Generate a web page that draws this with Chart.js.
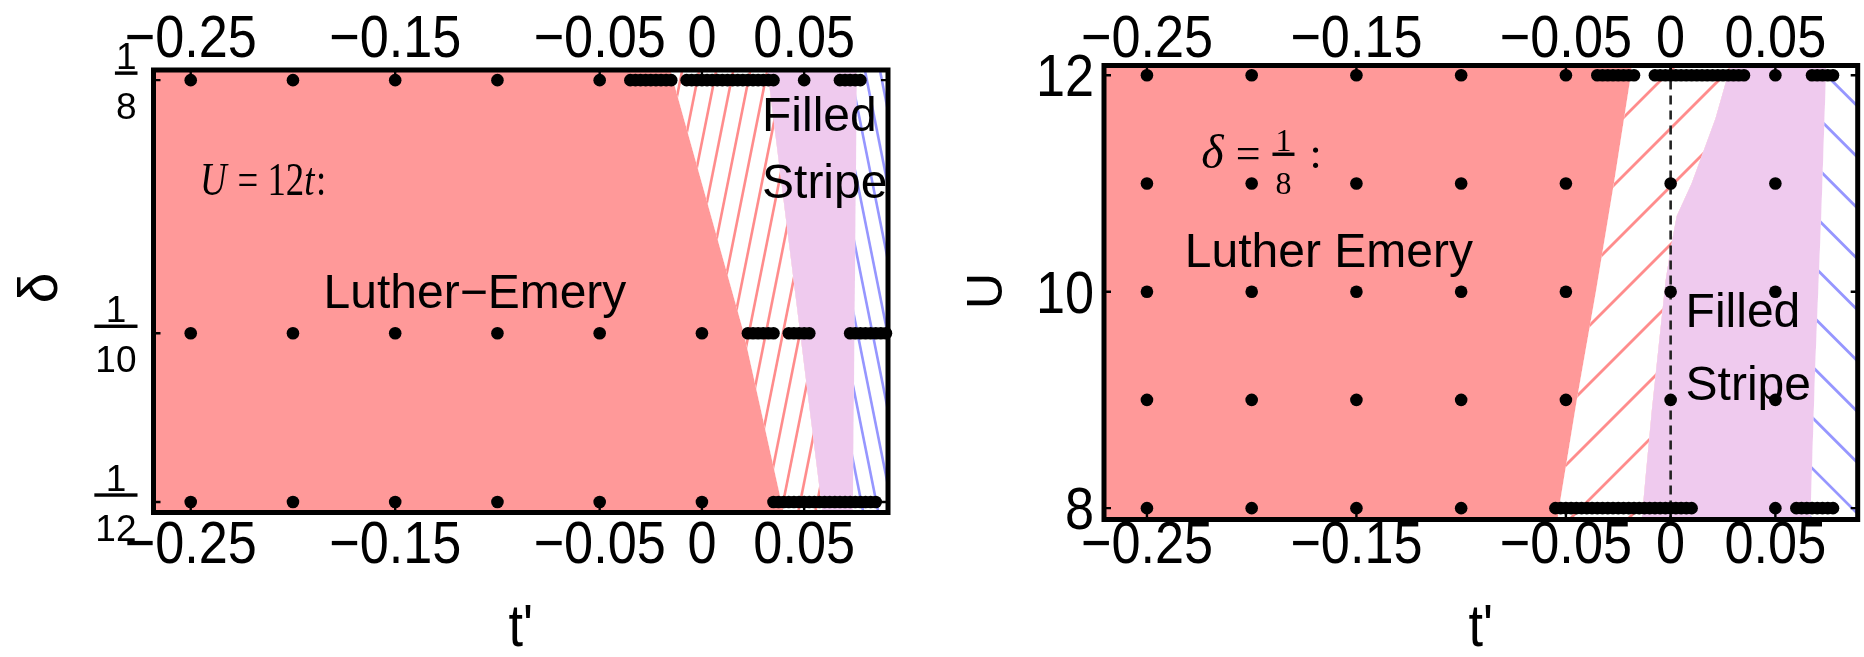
<!DOCTYPE html>
<html>
<head>
<meta charset="utf-8">
<script src="https://cdn.jsdelivr.net/npm/chart.js@4.4.1/dist/chart.umd.min.js"></script>
<style>
  html, body { margin: 0; padding: 0; background: #ffffff; }
  #wrap { position: relative; width: 1864px; height: 657px; overflow: hidden; background: #ffffff; }
  #wrap canvas { position: absolute; top: 0; }
</style>
</head>
<body>
<div id="wrap">
  <canvas id="chartDelta" width="932" height="657" style="left:0px"></canvas>
  <canvas id="chartU" width="932" height="657" style="left:932px"></canvas>
</div>
<script>
// ---------- shared axis ticks ----------
const tpTicks = [-0.25, -0.15, -0.05, 0, 0.05];
const tpTickLabels = ['\u22120.25', '\u22120.15', '\u22120.05', '0', '0.05'];

// ---------- left panel: delta vs t' at U = 12t ----------
const deltaTicks = [1/8, 1/10, 1/12];
const deltaTickNum = ['1', '1', '1'];
const deltaTickDen = ['8', '10', '12'];

const deltaRows = [1/8, 1/10, 1/12];
const tpAtDelta8 = [-0.25, -0.2, -0.15, -0.1, -0.05,
  -0.035, -0.0325, -0.03, -0.0275, -0.025, -0.0225, -0.02, -0.0175, -0.015,
  -0.0075, -0.005, -0.0025, 0, 0.0025, 0.005, 0.0075, 0.01, 0.0125, 0.015, 0.0175, 0.02,
  0.0225, 0.025, 0.0275, 0.03, 0.0325, 0.035,
  0.05,
  0.0675, 0.07, 0.0725, 0.075, 0.0775];
const tpAtDelta10 = [-0.25, -0.2, -0.15, -0.1, -0.05, 0,
  0.0225, 0.025, 0.0275, 0.03, 0.0325, 0.035,
  0.0425, 0.045, 0.0475, 0.05, 0.0525,
  0.0725, 0.075, 0.0775, 0.08, 0.0825, 0.085, 0.0875, 0.09];
const tpAtDelta12 = [-0.25, -0.2, -0.15, -0.1, -0.05, 0,
  0.035, 0.0375, 0.04, 0.0425, 0.045, 0.0475, 0.05, 0.0525, 0.055, 0.0575, 0.06,
  0.0625, 0.065, 0.0675, 0.07, 0.0725, 0.075, 0.0775, 0.08, 0.0825, 0.085];

// phase boundaries, listed top (large delta) to bottom: [t', delta]
const deltaLEEdge = [[-0.0155, 0.126], [0.0205, 0.1], [0.040, 0.0823]];
const deltaStripeLeft = [[0.032, 0.126], [0.059, 0.0823]];
const deltaStripeRight = [[0.0758, 0.126], [0.0738, 0.0823]];

// ---------- right panel: U vs t' at delta = 1/8 ----------
const uTicks = [8, 10, 12];
const uTickLabels = ['8', '10', '12'];

const uRows = [12, 11, 10, 9, 8];
const tpAtU12 = [-0.25, -0.2, -0.15, -0.1, -0.05,
  -0.035, -0.0325, -0.03, -0.0275, -0.025, -0.0225, -0.02, -0.0175,
  -0.0075, -0.005, -0.0025, 0, 0.0025, 0.005, 0.0075, 0.01, 0.0125, 0.015, 0.0175, 0.02,
  0.0225, 0.025, 0.0275, 0.03, 0.0325, 0.035,
  0.05,
  0.0675, 0.07, 0.0725, 0.075, 0.0775];
const tpAtU11 = [-0.25, -0.2, -0.15, -0.1, -0.05, 0, 0.05];
const tpAtU10 = [-0.25, -0.2, -0.15, -0.1, -0.05, 0, 0.05];
const tpAtU9 = [-0.25, -0.2, -0.15, -0.1, -0.05, 0, 0.05];
const tpAtU8 = [-0.25, -0.2, -0.15, -0.1,
  -0.055, -0.0525, -0.05, -0.0475, -0.045, -0.0425, -0.04, -0.0375, -0.035, -0.0325,
  -0.03, -0.0275, -0.025, -0.0225, -0.02, -0.0175, -0.015, -0.0125, -0.01, -0.0075,
  -0.005, -0.0025, 0, 0.0025, 0.005, 0.0075, 0.01,
  0.05,
  0.06, 0.0625, 0.065, 0.0675, 0.07, 0.0725, 0.075, 0.0775];

// phase boundaries, listed top (large U) to bottom: [t', U]
const uLEEdge = [[-0.0186, 12.09], [-0.019, 12], [-0.0271, 11], [-0.0357, 10], [-0.0448, 9], [-0.0533, 8], [-0.054, 7.895]];
const uStripeLeft = [[0.0286, 12.09], [0.0214, 11.6], [0.0157, 11.3], [0.010, 11.0], [0.0029, 10.7],
  [0, 10.4], [-0.0024, 10.1], [-0.0057, 9.5], [-0.009, 8.9], [-0.0119, 8.3], [-0.0138, 7.895]];
const uStripeRight = [[0.0743, 12.09], [0.0719, 10.7], [0.069, 9.3], [0.0667, 7.895]];

// ---------- styling ----------
const SANS = '"Liberation Sans", Arial, sans-serif';
const SERIF = '"Liberation Serif", "Times New Roman", serif';
const LE_FILL = 'rgb(255,153,153)';
const STRIPE_FILL = 'rgb(239,202,238)';
const RED_HATCH = 'rgb(255,140,140)';
const BLUE_HATCH = 'rgb(150,150,255)';

function toPoints(xs, yv) { return xs.map(v => ({ x: v, y: yv })); }

function dotSet(xs, yv) {
  return {
    type: 'scatter',
    data: toPoints(xs, yv),
    pointRadius: 6.3,
    pointHoverRadius: 6.3,
    backgroundColor: '#000',
    borderColor: '#000',
    borderWidth: 0,
    showLine: false,
    fill: false,
    clip: false
  };
}

function boundaryPx(chart, b, side) {
  const { x, y } = chart.scales;
  const a = chart.chartArea;
  if (b === 'frame') {
    const px = side === 'left' ? a.left - 20 : a.right + 20;
    return [[px, a.top - 20], [px, a.bottom + 20]];
  }
  return b.map(p => [x.getPixelForValue(p[0]), y.getPixelForValue(p[1])]);
}

function polyPath(ctx, poly) {
  ctx.beginPath();
  poly.forEach((p, i) => i ? ctx.lineTo(p[0], p[1]) : ctx.moveTo(p[0], p[1]));
  ctx.closePath();
}

function drawHatch(ctx, poly, h, a) {
  ctx.save();
  polyPath(ctx, poly);
  ctx.fillStyle = '#ffffff';
  ctx.fill();
  ctx.clip();
  const len = Math.hypot(h.dir[0], h.dir[1]);
  const d = [h.dir[0] / len, h.dir[1] / len];
  const n = [-d[1], d[0]];
  const corners = [[a.left, a.top], [a.right, a.top], [a.left, a.bottom], [a.right, a.bottom]];
  const proj = corners.map(c => (c[0] - h.through[0]) * n[0] + (c[1] - h.through[1]) * n[1]);
  const lo = Math.floor(Math.min(...proj) / h.gap) - 1;
  const hi = Math.ceil(Math.max(...proj) / h.gap) + 1;
  ctx.strokeStyle = h.color;
  ctx.lineWidth = h.width;
  for (let k = lo; k <= hi; k++) {
    const bx = h.through[0] + n[0] * k * h.gap;
    const by = h.through[1] + n[1] * k * h.gap;
    ctx.beginPath();
    ctx.moveTo(bx - d[0] * 3000, by - d[1] * 3000);
    ctx.lineTo(bx + d[0] * 3000, by + d[1] * 3000);
    ctx.stroke();
  }
  ctx.restore();
}

function condensedText(ctx, text, cx, base, size, sx, align) {
  ctx.save();
  ctx.translate(cx, base);
  ctx.scale(sx, 1);
  ctx.font = size + 'px ' + SANS;
  ctx.textAlign = align || 'center';
  ctx.textBaseline = 'alphabetic';
  ctx.fillText(text, 0, 0);
  ctx.restore();
}

function fraction(ctx, num, den, cx, barY, size, font, barW) {
  ctx.save();
  ctx.font = size + 'px ' + font;
  ctx.textAlign = 'center';
  ctx.textBaseline = 'alphabetic';
  const w = barW || Math.max(ctx.measureText(num).width, ctx.measureText(den).width) + 4;
  ctx.fillRect(cx - w / 2, barY - 1.7, w, 3.4);
  ctx.fillText(num, cx, barY - 0.11 * size);
  ctx.fillText(den, cx, barY + 1.24 * size);
  ctx.restore();
  return w;
}

const phasePlugin = {
  id: 'phase',
  beforeDatasetsDraw(chart, args, o) {
    const { ctx, chartArea: a, scales: { x, y } } = chart;
    ctx.save();
    ctx.beginPath();
    ctx.rect(a.left, a.top, a.right - a.left, a.bottom - a.top);
    ctx.clip();
    for (const r of o.regions) {
      const L = boundaryPx(chart, r.left, 'left');
      const R = boundaryPx(chart, r.right, 'right');
      const poly = L.concat(R.slice().reverse());
      if (r.fill) { ctx.fillStyle = r.fill; polyPath(ctx, poly); ctx.fill(); }
      if (r.hatch) {
        const t = r.hatch.through;
        drawHatch(ctx, poly, Object.assign({}, r.hatch, {
          through: [x.getPixelForValue(t[0]), y.getPixelForValue(t[1])]
        }), a);
      }
    }
    if (o.zeroLine) {
      const px = x.getPixelForValue(0);
      ctx.strokeStyle = '#222';
      ctx.lineWidth = 2.6;
      ctx.setLineDash([9, 6]);
      ctx.beginPath();
      ctx.moveTo(px, a.top);
      ctx.lineTo(px, a.bottom);
      ctx.stroke();
      ctx.setLineDash([]);
    }
    ctx.restore();
  },
  afterDraw(chart, args, o) {
    const { ctx, chartArea: a, scales: { x, y } } = chart;
    ctx.save();
    ctx.fillStyle = '#000';
    ctx.strokeStyle = '#000';

    // frame
    ctx.lineWidth = 5;
    ctx.strokeRect(a.left, a.top, a.right - a.left, a.bottom - a.top);

    // inward tick marks
    ctx.lineWidth = 2.4;
    ctx.beginPath();
    o.xTicks.forEach(v => {
      const px = x.getPixelForValue(v);
      ctx.moveTo(px, a.bottom); ctx.lineTo(px, a.bottom - 9);
      ctx.moveTo(px, a.top); ctx.lineTo(px, a.top + 9);
    });
    o.yTicks.forEach(v => {
      const py = y.getPixelForValue(v);
      ctx.moveTo(a.left, py); ctx.lineTo(a.left + 7, py);
      ctx.moveTo(a.right, py); ctx.lineTo(a.right - 7, py);
    });
    ctx.stroke();

    // t' tick labels, top and bottom
    o.xTicks.forEach((v, i) => {
      const px = x.getPixelForValue(v);
      condensedText(ctx, o.xLabels[i], px, 57, 60, 0.87);
      condensedText(ctx, o.xLabels[i], px, 563, 60, 0.87);
    });

    // left-hand tick labels
    if (o.yFractions) {
      o.yTicks.forEach((v, i) => {
        const py = y.getPixelForValue(v);
        ctx.font = '37px ' + SANS;
        const w = Math.max(ctx.measureText(o.yNum[i]).width, ctx.measureText(o.yDen[i]).width) + 2;
        fraction(ctx, o.yNum[i], o.yDen[i], a.left - 16 - w / 2, py - 7, 37, SANS, w);
      });
    } else {
      o.yTicks.forEach((v, i) => {
        const py = y.getPixelForValue(v);
        condensedText(ctx, o.yLabels[i], a.left - 10, py + 21, 60, 0.87, 'right');
      });
    }

    // axis titles
    const midX = (a.left + a.right) / 2;
    condensedText(ctx, 't\'', midX, 646, 60, 0.87);
    ctx.save();
    ctx.translate(o.yTitlePos[0], o.yTitlePos[1]);
    ctx.rotate(-Math.PI / 2);
    ctx.font = o.yTitleSize + 'px ' + SANS;
    ctx.textAlign = 'center';
    ctx.textBaseline = 'middle';
    ctx.fillText(o.yTitle, 0, 0);
    ctx.restore();

    // region labels
    ctx.textBaseline = 'alphabetic';
    o.notes.forEach(n => {
      const px = x.getPixelForValue(n.at[0]);
      const py = y.getPixelForValue(n.at[1]);
      ctx.font = '48px ' + SANS;
      ctx.textAlign = n.align || 'left';
      ctx.fillText(n.text, px, py);
    });

    // parameter caption
    if (o.caption) o.caption(ctx, x, y);
    ctx.restore();
  }
};

function baseOptions(xMin, xMax, yMin, yMax, pad, phaseOpts) {
  return {
    responsive: false,
    animation: false,
    events: [],
    layout: { padding: pad },
    scales: {
      x: { type: 'linear', min: xMin, max: xMax, display: false },
      y: { type: 'linear', min: yMin, max: yMax, display: false }
    },
    plugins: { legend: { display: false }, tooltip: { enabled: false }, phase: phaseOpts }
  };
}

// ---------- left chart ----------
new Chart(document.getElementById('chartDelta'), {
  type: 'scatter',
  data: {
    datasets: [
      dotSet(tpAtDelta8, deltaRows[0]),
      dotSet(tpAtDelta10, deltaRows[1]),
      dotSet(tpAtDelta12, deltaRows[2])
    ]
  },
  options: baseOptions(-0.2682, 0.0910, 0.0823, 0.1260,
    { left: 153.5, right: 44, top: 70, bottom: 144.5 },
    {
      regions: [
        { left: 'frame', right: deltaLEEdge, fill: LE_FILL },
        { left: deltaLEEdge, right: deltaStripeLeft,
          hatch: { dir: [-0.2, 1], gap: 16.7, through: [-0.0108, 0.1248], color: RED_HATCH, width: 2.6 } },
        { left: deltaStripeLeft, right: deltaStripeRight, fill: STRIPE_FILL },
        { left: deltaStripeRight, right: 'frame',
          hatch: { dir: [0.2, 1], gap: 14.7, through: [0.088, 0.125], color: BLUE_HATCH, width: 2.6 } }
      ],
      xTicks: tpTicks, xLabels: tpTickLabels,
      yTicks: deltaTicks, yFractions: true, yNum: deltaTickNum, yDen: deltaTickDen,
      yTitle: '\u03b4', yTitleSize: 55, yTitlePos: [42, 288],
      notes: [
        { text: 'Luther\u2212Emery', at: [-0.111, 0.1025], align: 'center' },
        { text: 'Filled', at: [0.0294, 0.11998] },
        { text: 'Stripe', at: [0.0294, 0.11336] }
      ],
      caption(ctx, x, y) {
        // U = 12t:
        const parts = [['U', true], [' = 12', false], ['t', true], [':', false]];
        ctx.save();
        ctx.translate(x.getPixelForValue(-0.2454), y.getPixelForValue(0.1137));
        ctx.scale(0.8, 1);
        ctx.textAlign = 'left';
        let cx = 0;
        parts.forEach(([s, it]) => {
          ctx.font = (it ? 'italic ' : '') + '46px ' + SERIF;
          ctx.fillText(s, cx, 0);
          cx += ctx.measureText(s).width + (it ? 2 : 0);
        });
        ctx.restore();
      }
    })
  ,
  plugins: [phasePlugin]
});

// ---------- right chart ----------
new Chart(document.getElementById('chartU'), {
  type: 'scatter',
  data: {
    datasets: [
      dotSet(tpAtU12, uRows[0]),
      dotSet(tpAtU11, uRows[1]),
      dotSet(tpAtU10, uRows[2]),
      dotSet(tpAtU9, uRows[3]),
      dotSet(tpAtU8, uRows[4])
    ]
  },
  options: baseOptions(-0.2705, 0.0893, 7.895, 12.09,
    { left: 172, right: 4.5, top: 65.5, bottom: 137.5 },
    {
      regions: [
        { left: 'frame', right: uLEEdge, fill: LE_FILL },
        { left: uLEEdge, right: uStripeLeft,
          hatch: { dir: [-1, 1], gap: 41, through: [-0.0209, 11.64], color: RED_HATCH, width: 2.8 } },
        { left: uStripeLeft, right: uStripeRight, fill: STRIPE_FILL },
        { left: uStripeRight, right: 'frame',
          hatch: { dir: [1, 1], gap: 36, through: [0.0733, 11.55], color: BLUE_HATCH, width: 2.8 } }
      ],
      zeroLine: true,
      xTicks: tpTicks, xLabels: tpTickLabels,
      yTicks: uTicks, yFractions: false, yLabels: uTickLabels,
      yTitle: 'U', yTitleSize: 50, yTitlePos: [56, 291],
      notes: [
        { text: 'Luther Emery', at: [-0.2319, 10.228] },
        { text: 'Filled', at: [0.00714, 9.673] },
        { text: 'Stripe', at: [0.00714, 9.0] }
      ],
      caption(ctx, x, y) {
        // delta = 1/8 :
        const colonX = x.getPixelForValue(-0.1705);
        const barY = y.getPixelForValue(11.27);
        ctx.textAlign = 'left';
        ctx.font = '44px ' + SERIF;
        ctx.fillText(':', colonX - 4, barY + 14);
        const fw = fraction(ctx, '1', '8', colonX - 30, barY, 32, SERIF, 22);
        ctx.font = '44px ' + SERIF;
        ctx.textAlign = 'right';
        ctx.fillText('=', colonX - 30 - fw / 2 - 12, barY + 14);
        const eqW = ctx.measureText('=').width;
        ctx.font = 'italic 48px ' + SERIF;
        ctx.fillText('\u03b4', colonX - 30 - fw / 2 - 12 - eqW - 12, barY + 14);
      }
    })
  ,
  plugins: [phasePlugin]
});
</script>
</body>
</html>
